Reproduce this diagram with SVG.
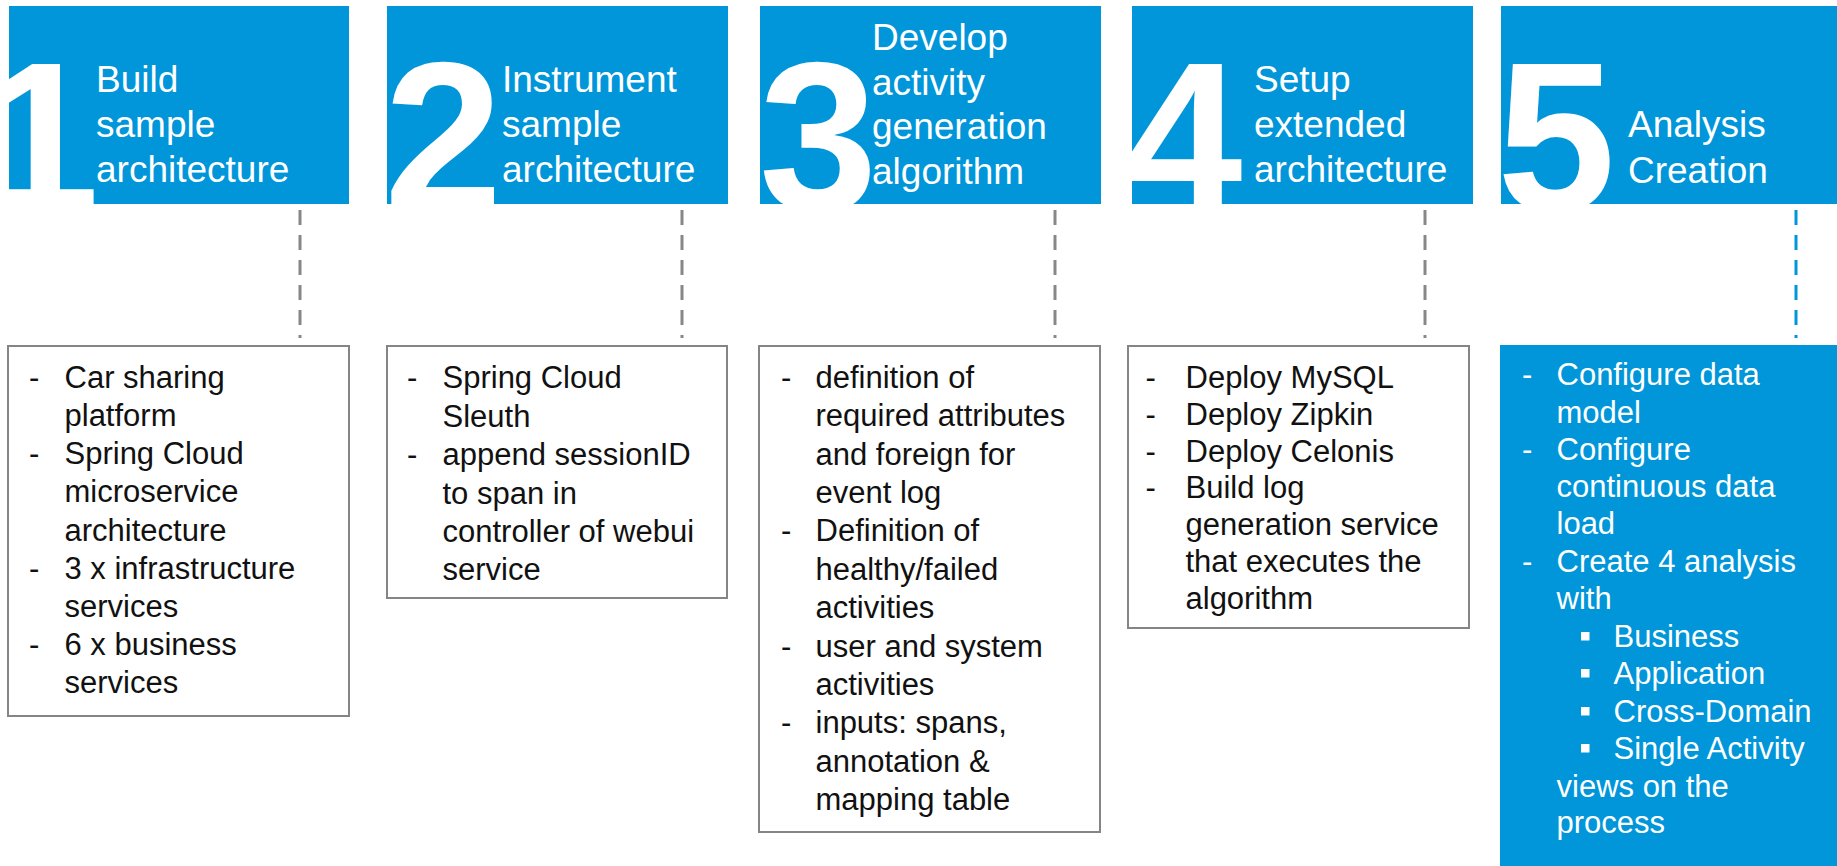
<svg xmlns="http://www.w3.org/2000/svg" width="1837" height="866" viewBox="0 0 1837 866">
  <style>
    .hdr { fill: #0096d9; }
    .num { font-family: "Liberation Sans", Arial, sans-serif; font-weight: bold; font-size: 213px; fill: #ffffff; }
    .ht { font-family: "Liberation Sans", Arial, sans-serif; font-size: 37px; fill: #ffffff; }
    .box { fill: #ffffff; stroke: #858585; stroke-width: 2; }
    .bt { font-family: "Liberation Sans", Arial, sans-serif; font-size: 31px; fill: #111111; }
    .bw { font-family: "Liberation Sans", Arial, sans-serif; font-size: 31px; fill: #ffffff; }
    .conn { fill: none; stroke: #878787; stroke-width: 3; stroke-dasharray: 15 10; }
    .connb { fill: none; stroke: #0096d9; stroke-width: 3; stroke-dasharray: 15 10; }
  </style>
  <defs>
    <clipPath id="c1"><rect x="9" y="6" width="340" height="198"/></clipPath>
    <clipPath id="c2"><rect x="387" y="6" width="341" height="198"/></clipPath>
    <clipPath id="c3"><rect x="760" y="6" width="341" height="198"/></clipPath>
    <clipPath id="c4"><rect x="1132" y="6" width="341" height="198"/></clipPath>
    <clipPath id="c5"><rect x="1501" y="6" width="336" height="198"/></clipPath>
  </defs>
  <rect width="1837" height="866" fill="#ffffff"/>

  <g id="connectors">
    <line class="conn" x1="300" y1="210" x2="300" y2="338"/>
    <line class="conn" x1="682" y1="210" x2="682" y2="338"/>
    <line class="conn" x1="1055" y1="210" x2="1055" y2="338"/>
    <line class="conn" x1="1425" y1="210" x2="1425" y2="338"/>
    <line class="connb" x1="1796" y1="210" x2="1796" y2="338"/>
  </g>

  <g id="step1-header">
    <rect class="hdr" x="9" y="6" width="340" height="198"/>
    <text class="num" x="-19" y="211" clip-path="url(#c1)">1</text>
    <text class="ht" x="96" y="92">Build</text>
    <text class="ht" x="96" y="137">sample</text>
    <text class="ht" x="96" y="182">architecture</text>
  </g>
  <g id="step2-header">
    <rect class="hdr" x="387" y="6" width="341" height="198"/>
    <text class="num" x="384" y="211" clip-path="url(#c2)">2</text>
    <text class="ht" x="502" y="92">Instrument</text>
    <text class="ht" x="502" y="137">sample</text>
    <text class="ht" x="502" y="182">architecture</text>
  </g>
  <g id="step3-header">
    <rect class="hdr" x="760" y="6" width="341" height="198"/>
    <text class="num" x="759" y="211" clip-path="url(#c3)">3</text>
    <text class="ht" x="872" y="50">Develop</text>
    <text class="ht" x="872" y="94.5">activity</text>
    <text class="ht" x="872" y="139">generation</text>
    <text class="ht" x="872" y="183.5">algorithm</text>
  </g>
  <g id="step4-header">
    <rect class="hdr" x="1132" y="6" width="341" height="198"/>
    <text class="num" x="1124" y="211" clip-path="url(#c4)">4</text>
    <text class="ht" x="1254" y="92">Setup</text>
    <text class="ht" x="1254" y="137">extended</text>
    <text class="ht" x="1254" y="182">architecture</text>
  </g>
  <g id="step5-header">
    <rect class="hdr" x="1501" y="6" width="336" height="198"/>
    <text class="num" x="1497" y="211" clip-path="url(#c5)">5</text>
    <text class="ht" x="1628" y="137">Analysis</text>
    <text class="ht" x="1628" y="182.5">Creation</text>
  </g>

  <g id="step1-details">
    <rect class="box" x="8" y="346" width="341" height="370"/>
    <text class="bt" x="29" y="388">-</text>
    <text class="bt" x="64.5" y="388">Car sharing</text>
    <text class="bt" x="64.5" y="426">platform</text>
    <text class="bt" x="29" y="464">-</text>
    <text class="bt" x="64.5" y="464">Spring Cloud</text>
    <text class="bt" x="64.5" y="502">microservice</text>
    <text class="bt" x="64.5" y="540.5">architecture</text>
    <text class="bt" x="29" y="578.5">-</text>
    <text class="bt" x="64.5" y="578.5">3 x infrastructure</text>
    <text class="bt" x="64.5" y="617">services</text>
    <text class="bt" x="29" y="655">-</text>
    <text class="bt" x="64.5" y="655">6 x business</text>
    <text class="bt" x="64.5" y="693">services</text>
  </g>

  <g id="step2-details">
    <rect class="box" x="387" y="346" width="340" height="252"/>
    <text class="bt" x="407" y="388">-</text>
    <text class="bt" x="442.5" y="388">Spring Cloud</text>
    <text class="bt" x="442.5" y="426.5">Sleuth</text>
    <text class="bt" x="407" y="465">-</text>
    <text class="bt" x="442.5" y="465">append sessionID</text>
    <text class="bt" x="442.5" y="503.5">to span in</text>
    <text class="bt" x="442.5" y="542">controller of webui</text>
    <text class="bt" x="442.5" y="580">service</text>
  </g>

  <g id="step3-details">
    <rect class="box" x="759" y="346" width="341" height="486"/>
    <text class="bt" x="781" y="388">-</text>
    <text class="bt" x="815.5" y="388">definition of</text>
    <text class="bt" x="815.5" y="426.4">required attributes</text>
    <text class="bt" x="815.5" y="464.7">and foreign for</text>
    <text class="bt" x="815.5" y="503.1">event log</text>
    <text class="bt" x="781" y="541.4">-</text>
    <text class="bt" x="815.5" y="541.4">Definition of</text>
    <text class="bt" x="815.5" y="579.8">healthy/failed</text>
    <text class="bt" x="815.5" y="618.2">activities</text>
    <text class="bt" x="781" y="656.5">-</text>
    <text class="bt" x="815.5" y="656.5">user and system</text>
    <text class="bt" x="815.5" y="694.9">activities</text>
    <text class="bt" x="781" y="733.2">-</text>
    <text class="bt" x="815.5" y="733.2">inputs: spans,</text>
    <text class="bt" x="815.5" y="771.6">annotation &amp;</text>
    <text class="bt" x="815.5" y="810">mapping table</text>
  </g>

  <g id="step4-details">
    <rect class="box" x="1128" y="346" width="341" height="282"/>
    <text class="bt" x="1145.5" y="388">-</text>
    <text class="bt" x="1185.5" y="388">Deploy MySQL</text>
    <text class="bt" x="1145.5" y="424.8">-</text>
    <text class="bt" x="1185.5" y="424.8">Deploy Zipkin</text>
    <text class="bt" x="1145.5" y="461.6">-</text>
    <text class="bt" x="1185.5" y="461.6">Deploy Celonis</text>
    <text class="bt" x="1145.5" y="498.4">-</text>
    <text class="bt" x="1185.5" y="498.4">Build log</text>
    <text class="bt" x="1185.5" y="535.2">generation service</text>
    <text class="bt" x="1185.5" y="572">that executes the</text>
    <text class="bt" x="1185.5" y="608.8">algorithm</text>
  </g>

  <g id="step5-details">
    <rect class="hdr" x="1500" y="345" width="337" height="521"/>
    <text class="bw" x="1522" y="385">-</text>
    <text class="bw" x="1556.5" y="385">Configure data</text>
    <text class="bw" x="1556.5" y="423">model</text>
    <text class="bw" x="1522" y="460">-</text>
    <text class="bw" x="1556.5" y="460">Configure</text>
    <text class="bw" x="1556.5" y="497">continuous data</text>
    <text class="bw" x="1556.5" y="534">load</text>
    <text class="bw" x="1522" y="572">-</text>
    <text class="bw" x="1556.5" y="572">Create 4 analysis</text>
    <text class="bw" x="1556.5" y="609">with</text>
    <rect x="1581" y="632" width="8.5" height="8.5" fill="#ffffff"/>
    <text class="bw" x="1613.5" y="647">Business</text>
    <rect x="1581" y="669" width="8.5" height="8.5" fill="#ffffff"/>
    <text class="bw" x="1613.5" y="684">Application</text>
    <rect x="1581" y="707" width="8.5" height="8.5" fill="#ffffff"/>
    <text class="bw" x="1613.5" y="722">Cross-Domain</text>
    <rect x="1581" y="744" width="8.5" height="8.5" fill="#ffffff"/>
    <text class="bw" x="1613.5" y="759">Single Activity</text>
    <text class="bw" x="1556.5" y="797">views on the</text>
    <text class="bw" x="1556.5" y="833">process</text>
  </g>
</svg>
